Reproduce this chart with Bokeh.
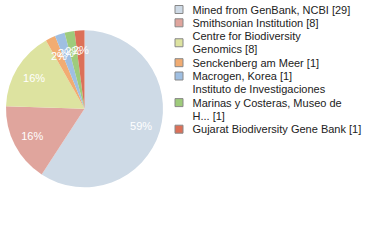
import math
from bokeh.plotting import figure
from bokeh.embed import file_html
from bokeh.resources import INLINE
from bokeh.core.properties import value

# ---- data ----
institutions = [
    "Mined from GenBank, NCBI [29]",
    "Smithsonian Institution [8]",
    "Centre for Biodiversity\nGenomics [8]",
    "Senckenberg am Meer [1]",
    "Macrogen, Korea [1]",
    "Instituto de Investigaciones\nMarinas y Costeras, Museo de\nH... [1]",
    "Gujarat Biodiversity Gene Bank [1]",
]
counts = [29, 8, 8, 1, 1, 1, 1]
pct_labels = ["59%", "16%", "16%", "2%", "2%", "2%", "2%"]
colors = ["#cedae6", "#e0a59d", "#dde3a0", "#f1ac72", "#9fbfe2", "#9ecb7b", "#dc7058"]

# ---- layout ----
W, H = 380, 240
cx_px, cy_px, R = 84, 108.3, 78.5
label_r = 59
FONT = "Liberation Sans"

p = figure(width=W, height=H, x_range=(0, W), y_range=(0, H),
           output_backend="svg", toolbar_location=None, min_border=0)
p.axis.visible = False
p.grid.visible = False
p.outline_line_color = None
p.background_fill_color = "white"
p.border_fill_color = "white"

cx, cy = cx_px, H - cy_px
total = sum(counts)
starts, ends, mids = [], [], []
acc = 0
for c in counts:
    a0 = math.pi / 2 - 2 * math.pi * acc / total
    acc += c
    a1 = math.pi / 2 - 2 * math.pi * acc / total
    starts.append(a0)
    ends.append(a1)
    mids.append((a0 + a1) / 2)

p.wedge(x=cx, y=cy, radius=R, radius_units="screen",
        start_angle=starts, end_angle=ends, direction="clock",
        fill_color=colors, line_color=None)

lx = [cx + label_r * math.cos(m) for m in mids]
ly = [cy + label_r * math.sin(m) for m in mids]
p.text(x=lx, y=ly, text=pct_labels, text_color="white",
       text_font=value(FONT), text_font_size="11px",
       text_align="center", text_baseline="middle")

# legend
line_h = 13.3
y0 = 9
line_idx = 0
sq_x, sq_y, tx, ty, ttxt = [], [], [], [], []
for lab in institutions:
    lines = lab.split("\n")
    ys = [y0 + line_h * (line_idx + k) for k in range(len(lines))]
    sq_x.append(178.5)
    sq_y.append(H - sum(ys) / len(ys))
    for k, ln in enumerate(lines):
        tx.append(192)
        ty.append(H - ys[k])
        ttxt.append(ln)
    line_idx += len(lines)

p.rect(x=sq_x, y=sq_y, width=8, height=8, width_units="screen",
       height_units="screen", fill_color=colors, line_color="#888888",
       line_width=1)
p.text(x=tx, y=ty, text=ttxt, text_color="#222222",
       text_font=value(FONT), text_font_size="11px",
       text_align="left", text_baseline="middle")

open("out.html", "w").write(file_html(p, INLINE))
